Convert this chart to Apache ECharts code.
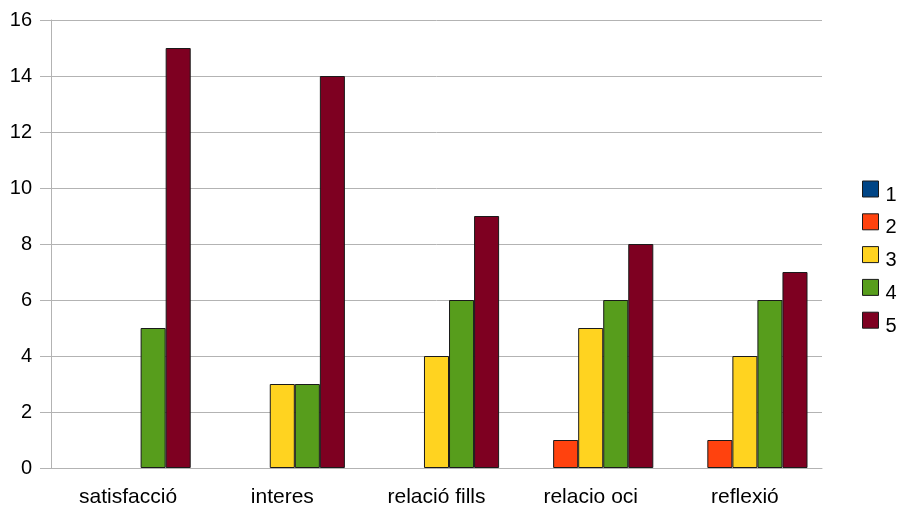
<!DOCTYPE html>
<html><head><meta charset="utf-8">
<script src="https://cdn.jsdelivr.net/npm/echarts@6/dist/echarts.min.js"></script>
<style>html,body{margin:0;padding:0;background:#fff}#c{width:903px;height:513px}</style>
</head><body><div id="c"></div>
<script>
const categories = ['satisfacció', 'interes', 'relació fills', 'relacio oci', 'reflexió'];
const seriesNames = ['1', '2', '3', '4', '5'];
const s1 = [0, 0, 0, 0, 0];
const s2 = [0, 0, 0, 1, 1];
const s3 = [0, 3, 4, 5, 4];
const s4 = [5, 3, 6, 6, 6];
const s5 = [15, 14, 9, 8, 7];
const colors = ['#004586', '#ff420e', '#ffd320', '#579d1c', '#7e0021'];
const yTicks = [0, 2, 4, 6, 8, 10, 12, 14, 16];

const values = [s1, s2, s3, s4, s5];
const chart = echarts.init(document.getElementById('c'), null, {renderer: 'canvas'});
const font = 'Liberation Sans, Arial, sans-serif';
chart.setOption({
  animation: false,
  color: colors,
  grid: {left: 51, right: 81, top: 20, bottom: 45, containLabel: false},
  legend: {
    orient: 'vertical', left: 862, top: 173, padding: 0,
    itemWidth: 16, itemHeight: 16, itemGap: 0.8,
    icon: 'rect',
    itemStyle: {borderColor: '#1a1a1a', borderWidth: 1},
    formatter: '{t|{name}}',
    textStyle: {fontFamily: font, fontSize: 20, color: '#000',
      rich: {t: {fontFamily: font, fontSize: 20, color: '#000', lineHeight: 24, padding: [12, 0, 0, 2]}}},
    data: seriesNames
  },
  xAxis: {
    type: 'category', data: categories,
    axisLine: {lineStyle: {color: '#b3b3b3', width: 1}},
    axisTick: {alignWithLabel: true, length: 12, lineStyle: {color: '#b3b3b3'}},
    axisLabel: {fontFamily: font, fontSize: 21, color: '#000', margin: 19, interval: 0}
  },
  yAxis: {
    type: 'value', min: yTicks[0], max: yTicks[yTicks.length - 1], interval: 2,
    axisLine: {show: true, lineStyle: {color: '#b3b3b3', width: 1}},
    axisTick: {show: true, length: 11, lineStyle: {color: '#b3b3b3'}},
    axisLabel: {fontFamily: font, fontSize: 20, color: '#000', margin: 19},
    splitLine: {lineStyle: {color: '#b3b3b3', width: 1}}
  },
  series: seriesNames.map((n, i) => ({
    name: n, type: 'bar',
    data: values[i].map(v => ({value: v, itemStyle: {borderWidth: v === 0 ? 0 : 1}})),
    barGap: '0%', barCategoryGap: '18.8%',
    itemStyle: {color: colors[i], borderColor: '#1a1a1a', borderWidth: 1}
  }))
});
</script></body></html>
